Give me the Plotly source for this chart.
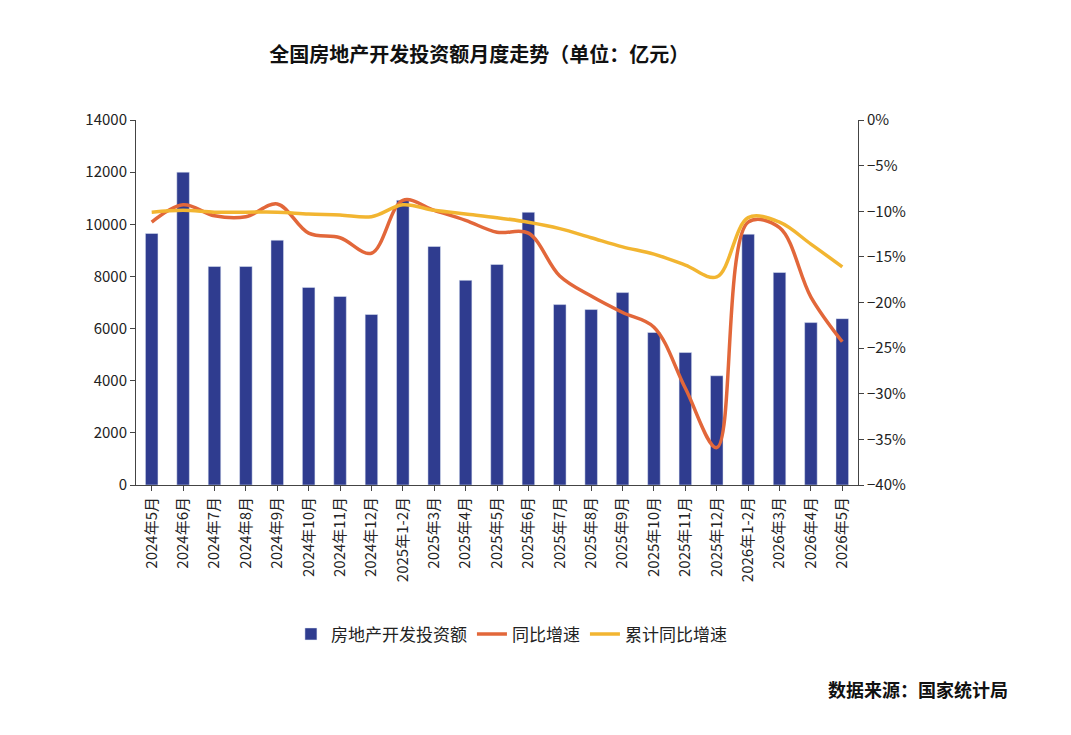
# 数据准备
import plotly.graph_objects as go

# 月份标签
months = ['2024年5月', '2024年6月', '2024年7月', '2024年8月', '2024年9月', '2024年10月',
          '2024年11月', '2024年12月', '2025年1-2月', '2025年3月', '2025年4月', '2025年5月',
          '2025年6月', '2025年7月', '2025年8月', '2025年9月', '2025年10月', '2025年11月',
          '2025年12月', '2026年1-2月', '2026年3月', '2026年4月', '2026年5月']

# 房地产开发投资额（亿元）
invest = [9650, 12000, 8380, 8380, 9390, 7580, 7230, 6540, 10920, 9150, 7850, 8460,
          10460, 6920, 6730, 7380, 5850, 5080, 4190, 9620, 8150, 6230, 6380]

# 同比增速（%）
yoy = [-11.2, -9.3, -10.5, -10.6, -9.2, -12.4, -12.9, -14.6, -8.8, -9.9, -11.0, -12.3,
       -12.4, -17.1, -19.3, -21.1, -22.7, -29.4, -35.9, -11.2, -11.8, -19.4, -24.3]

# 累计同比增速（%）
cum = [-10.1, -9.9, -10.1, -10.1, -10.1, -10.3, -10.4, -10.6, -9.3, -9.9, -10.3, -10.7,
       -11.2, -11.9, -12.9, -13.9, -14.7, -15.9, -17.2, -10.7, -11.2, -13.6, -16.1]

font = 'Noto Sans CJK SC'

# 柱状图 + 两条折线
fig = go.Figure()
fig.add_trace(go.Bar(x=months, y=invest, name='房地产开发投资额',
                     marker_color='#2F3C8F', width=0.4))
fig.add_trace(go.Scatter(x=months, y=yoy, name='同比增速', yaxis='y2', mode='lines',
                         line=dict(color='#E2673A', width=3.5, shape='spline')))
fig.add_trace(go.Scatter(x=months, y=cum, name='累计同比增速', yaxis='y2', mode='lines',
                         line=dict(color='#F2B531', width=3.5, shape='spline')))

# 布局设置
fig.update_layout(
    width=1071,
    height=735,
    plot_bgcolor='white',
    paper_bgcolor='white',
    font=dict(family=font, size=15, color='#222'),
    margin=dict(l=128, r=221, t=112, b=258),
    title=dict(text='<b>全国房地产开发投资额月度走势（单位：亿元）</b>', x=0.44, y=0.945,
               xanchor='center', font=dict(size=20, color='#111')),
    xaxis=dict(tickangle=-90, showline=True, linecolor='#444', ticks='outside',
               tickcolor='#444', ticklen=5, tickfont=dict(size=15)),
    yaxis=dict(range=[0, 14000], dtick=2000, tickformat='d', showgrid=False, showline=True,
               linecolor='#444', ticks='outside', tickcolor='#444', ticklen=5),
    yaxis2=dict(range=[-40, 0], dtick=5, ticksuffix='%', overlaying='y', side='right',
                showgrid=False, showline=True, linecolor='#444', ticks='outside',
                tickcolor='#444', ticklen=5),
    legend=dict(orientation='h', x=0.52, y=-0.36, xanchor='center', yanchor='top',
                font=dict(size=17)),
)

# 数据来源
fig.add_annotation(text='<b>数据来源：国家统计局</b>', xref='paper', yref='paper',
                   x=1.21, y=-0.56, xanchor='right', yanchor='middle', showarrow=False,
                   font=dict(size=18, color='#111'))

fig.write_html('out.html')
